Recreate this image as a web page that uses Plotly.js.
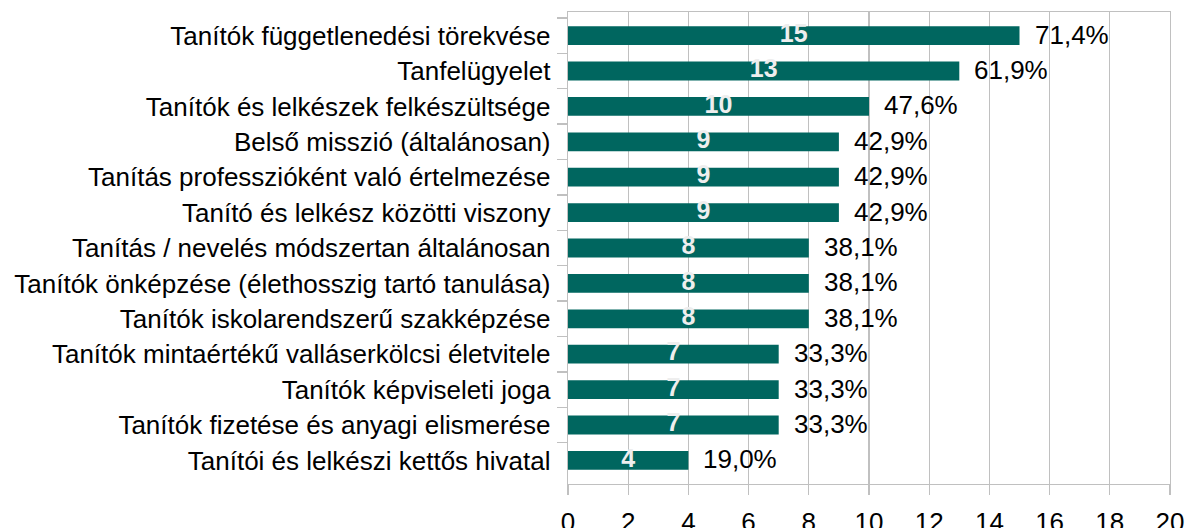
<!DOCTYPE html>
<html>
<head>
<meta charset="utf-8">
<script src="https://cdn.plot.ly/plotly-3.0.1.min.js"></script>
<style>html,body{margin:0;padding:0;background:#fff}#chart{width:1186px;height:528px}</style>
</head>
<body>
<div id="chart"></div>
<script>
var categories = [
  "Tanítók függetlenedési törekvése",
  "Tanfelügyelet",
  "Tanítók és lelkészek felkészültsége",
  "Belső misszió (általánosan)",
  "Tanítás professzióként való értelmezése",
  "Tanító és lelkész közötti viszony",
  "Tanítás / nevelés módszertan általánosan",
  "Tanítók önképzése (élethosszig tartó tanulása)",
  "Tanítók iskolarendszerű szakképzése",
  "Tanítók mintaértékű valláserkölcsi életvitele",
  "Tanítók képviseleti joga",
  "Tanítók fizetése és anyagi elismerése",
  "Tanítói és lelkészi kettős hivatal"
];
var counts = [15, 13, 10, 9, 9, 9, 8, 8, 8, 7, 7, 7, 4];
var percentLabels = ["71,4%", "61,9%", "47,6%", "42,9%", "42,9%", "42,9%", "38,1%", "38,1%", "38,1%", "33,3%", "33,3%", "33,3%", "19,0%"];
var xTicks = [0, 2, 4, 6, 8, 10, 12, 14, 16, 18, 20];

var FONT = "Liberation Sans, Arial, sans-serif";

var bars = {
  type: "bar",
  orientation: "h",
  y: categories,
  x: counts,
  marker: {color: "#00665F"},
  textposition: "none",
  hoverinfo: "none",
  showlegend: false
};

var inside = {
  type: "scatter",
  mode: "text",
  y: categories,
  x: counts.map(function(v){ return v / 2; }),
  text: counts.map(String),
  textposition: "middle center",
  textfont: {family: FONT, size: 25, color: "#eeeeee", weight: "bold"},
  hoverinfo: "none",
  showlegend: false,
  cliponaxis: false
};

var annotations = categories.map(function(c, i){
  return {
    x: counts[i], y: c, xref: "x", yref: "y",
    text: percentLabels[i], showarrow: false,
    xanchor: "left", yanchor: "middle", xshift: 13, yshift: 1,
    font: {family: FONT, size: 26, color: "#000"}
  };
});

var layout = {
  width: 1186, height: 528,
  margin: {l: 568, r: 16, t: 12, b: 44},
  paper_bgcolor: "#fff", plot_bgcolor: "#fff",
  bargap: 0.47,
  font: {family: FONT, size: 26, color: "#000"},
  xaxis: {
    range: [0, 20], tickvals: xTicks, ticktext: xTicks.map(String),
    showgrid: true, gridcolor: "#c0c0c0", gridwidth: 1.3,
    showline: true, linecolor: "#c0c0c0", linewidth: 1.3, mirror: true,
    ticks: "outside", ticklen: 10, tickcolor: "#c0c0c0", tickwidth: 1.3,
    ticklabelstandoff: 4,
    zeroline: false, fixedrange: true,
    tickfont: {family: FONT, size: 26, color: "#000"}
  },
  yaxis: {
    type: "category", autorange: "reversed",
    showgrid: false, showline: true, linecolor: "#c0c0c0", linewidth: 1.3, mirror: true,
    ticks: "outside", tickson: "boundaries", ticklen: 10, tickcolor: "#c0c0c0", tickwidth: 1.3,
    ticklabelstandoff: 11,
    tickfont: {family: FONT, size: 26, color: "#000"},
    fixedrange: true
  },
  annotations: annotations
};

Plotly.newPlot("chart", [bars, inside], layout, {displayModeBar: false, staticPlot: true});
</script>
</body>
</html>
